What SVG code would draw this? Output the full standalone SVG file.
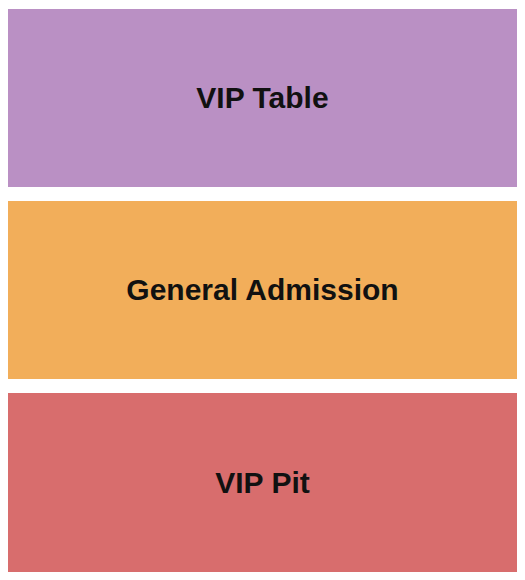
<svg xmlns="http://www.w3.org/2000/svg" width="525" height="580" viewBox="0 0 525 580">
<style>
.t{font-family:"Liberation Sans",Arial,sans-serif;font-weight:bold;font-size:30px;fill:#111;text-anchor:middle}
</style>
<rect width="525" height="580" fill="#fff"/>
<g id="vip-table"><rect x="8" y="9" width="509" height="178" fill="#BA90C4"/><text class="t" x="262.5" y="108">VIP Table</text></g>
<g id="general-admission"><rect x="8" y="201" width="509" height="178" fill="#F2AE5A"/><text class="t" x="262.5" y="300">General Admission</text></g>
<g id="vip-pit"><rect x="8" y="393" width="509" height="179" fill="#D86D6D"/><text class="t" x="262.5" y="493">VIP Pit</text></g>
<g id="connectors"/>
</svg>
